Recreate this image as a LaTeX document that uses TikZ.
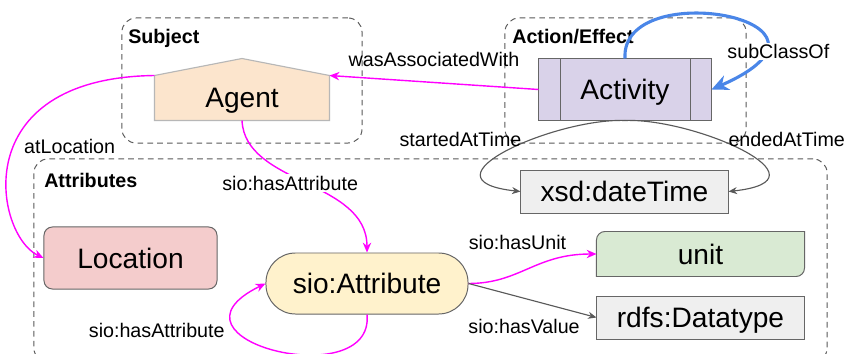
\documentclass[tikz,border=0pt]{standalone}
\usepackage{fontspec}
\setmainfont{Liberation Sans}
\usepackage{tikz}
\usetikzlibrary{positioning,arrows.meta,backgrounds}
\usepackage{xcolor}
\definecolor{agentfill}{HTML}{FCE5CD}
\definecolor{agentline}{HTML}{B7B7B7}
\definecolor{actfill}{HTML}{D9D2E9}
\definecolor{greyfill}{HTML}{EFEFEF}
\definecolor{unitfill}{HTML}{D9EAD3}
\definecolor{locfill}{HTML}{F4CCCC}
\definecolor{attrfill}{HTML}{FFF2CC}
\definecolor{boxline}{HTML}{666666}
\definecolor{linkgrey}{HTML}{595959}
\definecolor{linkmag}{HTML}{FF00FF}
\definecolor{subblue}{HTML}{4A86E8}

\begin{document}
\begin{tikzpicture}[x=0.025cm,y=-0.025cm,>={Stealth[length=7pt,width=6pt]},
  lbl/.style={font=\fontsize{14}{16}\selectfont,inner sep=1pt,text=black},
  grouptitle/.style={font=\fontsize{14}{16}\selectfont\bfseries,inner sep=0pt,anchor=base west},
  groupbox/.style={draw=black!65,line width=0.7pt,dash pattern=on 4pt off 3pt,rounded corners=10pt},
  classbox/.style={draw=boxline,line width=0.7pt,font=\fontsize{20}{24}\selectfont,inner sep=0pt,text depth=0pt},
  maglink/.style={draw=linkmag,line width=1pt,->},
  greylink/.style={draw=linkgrey,line width=0.8pt,-{Stealth[length=6pt,width=5pt]}}]
\useasboundingbox (0,0) rectangle (848,354);

% classes
\node[classbox,draw=none,minimum width=4.35cm,minimum height=1.1cm] (agent) at (242,98) {Agent};
\node[classbox,fill=actfill,minimum width=4.3cm,minimum height=1.525cm] (activity) at (625,89.5) {Activity};
\node[classbox,fill=greyfill,minimum width=5.175cm,minimum height=1.075cm] (xsd) at (624.5,191.5) {xsd:dateTime};
\node[classbox,draw=none,minimum width=5.175cm,minimum height=1.1cm] (unit) at (700.5,254) {unit};
\node[classbox,fill=greyfill,minimum width=5.175cm,minimum height=1.075cm] (rdfs) at (700.5,317.5) {rdfs:Datatype};
\node[classbox,fill=locfill,rounded corners=6pt,minimum width=4.325cm,minimum height=1.55cm] (location) at (130.5,258) {Location};
\node[classbox,fill=attrfill,rounded corners=21pt,minimum width=5.05cm,minimum height=1.525cm] (attribute) at (367,283.5) {sio:Attribute};
\draw[draw=boxline,line width=0.7pt] ([xshift=0.55cm]activity.north west) -- ([xshift=0.55cm]activity.south west)
  ([xshift=-0.525cm]activity.north east) -- ([xshift=-0.525cm]activity.south east);

% group titles
\node[grouptitle] (subjecttitle) at (128,44) {Subject};
\node[grouptitle] (actiontitle) at (512,44) {Action/Effect};
\node[grouptitle] (attrtitle) at (44,188) {Attributes};

% links
\draw[maglink] (activity.west) -- (agent.north east) node[lbl,midway,above=9.5pt]{wasAssociatedWith};
\draw[draw=subblue,line width=2.2pt,-{Stealth[length=12pt,width=11pt]}] (activity.north) .. controls (620,-25) and (870,20) .. (activity.east)
  node[lbl,pos=0.8,xshift=11pt,fill=white]{subClassOf};
\draw[maglink] (agent.north west) .. controls (-35,78) and (-5,235) .. (location.west)
  node[lbl,pos=0.45,anchor=west,xshift=6pt]{atLocation};
\draw[maglink] (agent.south) .. controls (245,185) and (367,180) .. (attribute.north)
  node[lbl,pos=0.45,fill=white,xshift=-4.4pt,yshift=-3pt]{sio:hasAttribute};
\draw[greylink] (activity.south) .. controls (555,118) and (415,180) .. (xsd.west)
  node[lbl,pos=0.4,anchor=base east,xshift=-3pt,yshift=-4pt]{startedAtTime};
\draw[greylink] (activity.south) .. controls (695,118) and (835,180) .. (xsd.east)
  node[lbl,pos=0.4,anchor=base west,xshift=3pt,yshift=-4pt]{endedAtTime};
\draw[maglink] (attribute.east) .. controls (520,283.5) and (535,254) .. (unit.west)
  node[lbl,midway,above=12pt,xshift=-8pt]{sio:hasUnit};
\draw[greylink] (attribute.east) -- (rdfs.west) node[lbl,midway,below=12pt,xshift=-6pt]{sio:hasValue};
\draw[maglink] (attribute.south) .. controls (375,395) and (150,340) .. (attribute.west)
  node[lbl,pos=0.75,anchor=base east,xshift=-5pt,yshift=-10pt]{sio:hasAttribute};

\begin{scope}[on background layer]
\fill[white] (0,0) rectangle (848,354);
\node[groupbox,minimum width=6cm,minimum height=3.125cm] (subject) at (242,80.5) {};
\node[groupbox,minimum width=6.025cm,minimum height=3.125cm] (action) at (625.5,80.5) {};
\node[groupbox,minimum width=19.825cm,minimum height=5.075cm] (attributes) at (430.5,260.5) {};
\draw[draw=agentline,fill=agentfill,line width=0.8pt] (agent.south west) -- (agent.north west) -- ([yshift=0.425cm]agent.north)
  -- (agent.north east) -- (agent.south east) -- cycle;
\draw[draw=boxline,fill=unitfill,line width=0.7pt] ([yshift=-6pt]unit.north west) arc[start angle=180,end angle=90,radius=6pt]
  -- (unit.north east) -- ([yshift=6pt]unit.south east) arc[start angle=0,end angle=-90,radius=6pt] -- (unit.south west) -- cycle;
\end{scope}
\end{tikzpicture}
\end{document}
